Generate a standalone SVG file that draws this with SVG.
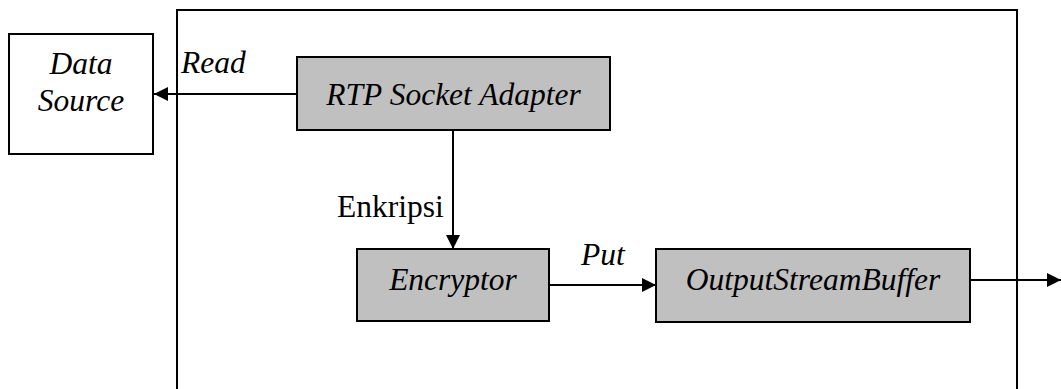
<svg xmlns="http://www.w3.org/2000/svg" width="1061" height="389" viewBox="0 0 1061 389">
  <style>
    .box { fill: #ffffff; stroke: #000000; stroke-width: 2; }
    .comp { fill: #c0c0c0; stroke: #000000; stroke-width: 2; }
    .line { fill: none; stroke: #000000; stroke-width: 2; }
    .it { font-style: italic; }
  </style>
  <defs>
    <marker id="arrow" markerWidth="14" markerHeight="14" viewBox="0 0 14 14" refX="14" refY="7" orient="auto" markerUnits="userSpaceOnUse">
      <path d="M0,0 L14,7 L0,14 Z" fill="#000000"/>
    </marker>
  </defs>

  <!-- system boundary -->
  <g id="system">
    <rect class="box" x="177" y="10" width="840" height="400"/>
  </g>

  <g font-family="Liberation Serif, serif" font-size="31.5" fill="#000000">
    <g id="data-source">
      <rect class="box" x="9" y="34" width="144" height="120"/>
      <text class="it" x="81" y="74" text-anchor="middle">Data</text>
      <text class="it" x="81" y="111" text-anchor="middle">Source</text>
    </g>

    <g id="rtp-socket-adapter">
      <rect class="comp" x="297" y="57" width="313" height="73"/>
      <text class="it" x="453.5" y="105" text-anchor="middle">RTP Socket Adapter</text>
    </g>

    <g id="encryptor">
      <rect class="comp" x="357" y="249" width="192" height="72"/>
      <text class="it" x="453" y="290" text-anchor="middle">Encryptor</text>
    </g>

    <g id="output-stream-buffer">
      <rect class="comp" x="656" y="249" width="314" height="73"/>
      <text class="it" x="813" y="290" text-anchor="middle">OutputStreamBuffer</text>
    </g>

    <g id="connectors">
      <line class="line" x1="297" y1="94" x2="154" y2="94" marker-end="url(#arrow)"/>
      <line class="line" x1="453" y1="130" x2="453" y2="249" marker-end="url(#arrow)"/>
      <line class="line" x1="549" y1="285" x2="656" y2="285" marker-end="url(#arrow)"/>
      <line class="line" x1="970" y1="280" x2="1061" y2="280" marker-end="url(#arrow)"/>
      <text class="it" x="181" y="73">Read</text>
      <text x="337" y="217">Enkripsi</text>
      <text class="it" x="581" y="265">Put</text>
    </g>
  </g>
</svg>
